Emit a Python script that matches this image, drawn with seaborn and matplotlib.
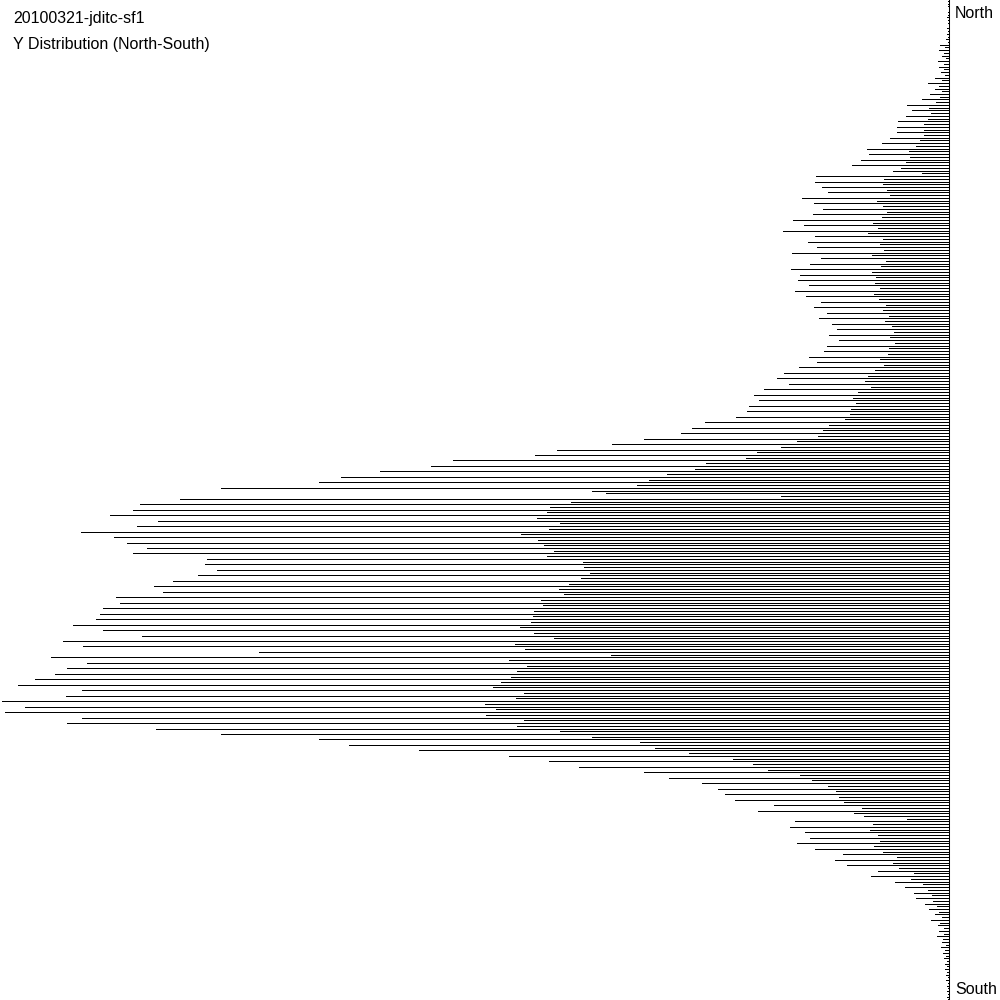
import numpy as np
import matplotlib
matplotlib.use("Agg")
import matplotlib.pyplot as plt
import seaborn as sns

sns.set_theme(style="white")
plt.rcParams['font.family'] = ['Liberation Sans', 'DejaVu Sans']

# counts per north-south bin (main row of each bin)
long_counts = [
    1, 1, 1, 2, 1, 2, 2, 3,
    9, 10, 7, 11, 10, 8, 14, 21, 14, 19, 27, 42, 37, 43,
    51, 52, 52, 59, 67, 82, 80, 88, 97, 56, 133, 134, 127, 121, 147,
    135, 126, 136, 156, 145, 166, 134, 141, 132, 157, 128, 139, 158, 149, 151,
    140, 154, 143,
    128, 135, 122, 130, 117, 112, 120, 110, 122, 125, 140, 132, 150, 165, 172,
    160, 185, 195, 190,
    200, 202, 213, 244, 257, 268, 305, 337, 392, 414, 496, 518, 569, 608, 630,
    728, 343, 769, 809, 816, 839, 791, 812, 868, 835, 822, 802, 816, 742, 744,
    732, 751, 776, 795, 786, 833, 829, 846, 849, 853, 876, 846, 807, 886, 866,
    690, 898, 862, 882, 894, 914, 931, 867, 883, 947, 924, 944, 867, 882, 793,
    728, 630, 600, 530, 440, 400, 370, 305, 280,
    247, 231, 224, 214, 175, 191, 85, 154, 159, 144, 139, 152, 134, 106, 114,
    102, 71, 78, 54, 44, 35, 33,
    24, 20, 14, 18, 11, 10, 12, 7, 8, 6, 5, 4, 4, 3, 3, 2, 2, 2,
]

# second (shorter) row drawn just below each bin
short_counts = [
    1, 0, 1, 1, 0, 1, 1, 1,
    4, 5, 3, 5, 5, 4, 7, 10, 7, 9, 13, 20, 18, 21,
    25, 25, 25, 29, 33, 40, 39, 43, 48, 27, 65, 66, 62, 59, 72,
    66, 62, 67, 76, 71, 81, 66, 69, 65, 77, 63, 68, 77, 73, 74,
    69, 75, 70,
    63, 66, 60, 64, 57, 55, 59, 54, 60, 61, 69, 65, 74, 81, 84,
    78, 91, 96, 93,
    98, 99, 104, 120, 126, 131, 152, 168, 192, 203, 243, 254, 282, 300, 312,
    357, 168, 378, 399, 402, 412, 389, 400, 428, 411, 405, 395, 402, 366, 365,
    359, 368, 380, 390, 385, 408, 406, 415, 416, 418, 429, 415, 395, 434, 424,
    338, 440, 422, 432, 438, 448, 456, 425, 433, 464, 453, 463, 425, 432, 389,
    357, 309, 294, 260, 216, 196, 181, 149, 137,
    121, 113, 110, 105, 87, 95, 42, 76, 79, 71, 69, 75, 66, 52, 56,
    50, 35, 38, 26, 21, 17, 16,
    12, 10, 7, 9, 5, 5, 6, 3, 4, 3, 2, 2, 2, 1, 1, 1, 1, 1,
]

title_lines = ["20100321-jditc-sf1", "Y Distribution (North-South)"]
end_labels = ["North", "South"]

bins = np.arange(len(long_counts))

fig = plt.figure(figsize=(10, 10), dpi=100)
fig.patch.set_facecolor('white')
ax = fig.add_axes([0, 0, 0.9485, 1])
ax.set_facecolor('white')

ax.hlines(bins, 0, long_counts, color='black', lw=0.55, antialiased=False)
ax.hlines(bins + 0.5, 0, short_counts, color='black', lw=0.55, antialiased=False)

# bars grow to the left from the axis on the right, north on top
pitch = 5.47
y0 = 1.0
ax.set_xlim(948.5, 0)
ax.set_ylim((1000 - y0) / pitch, -y0 / pitch)
ax.set_xticks([])
ax.set_yticks([])
sns.despine(ax=ax, left=True, top=True, bottom=True, right=False)
ax.spines['right'].set_color('black')
ax.spines['right'].set_linewidth(0.75)

fig.text(0.013, 0.982, title_lines[0], fontsize=11.5, color='black',
         ha='left', va='center')
fig.text(0.013, 0.955, title_lines[1], fontsize=11.5, color='black',
         ha='left', va='center')
fig.text(0.955, 0.987, end_labels[0], fontsize=11.5, color='black',
         ha='left', va='center')
fig.text(0.955, 0.010, end_labels[1], fontsize=11.5, color='black',
         ha='left', va='center')

fig.savefig('out.png', dpi=100)
